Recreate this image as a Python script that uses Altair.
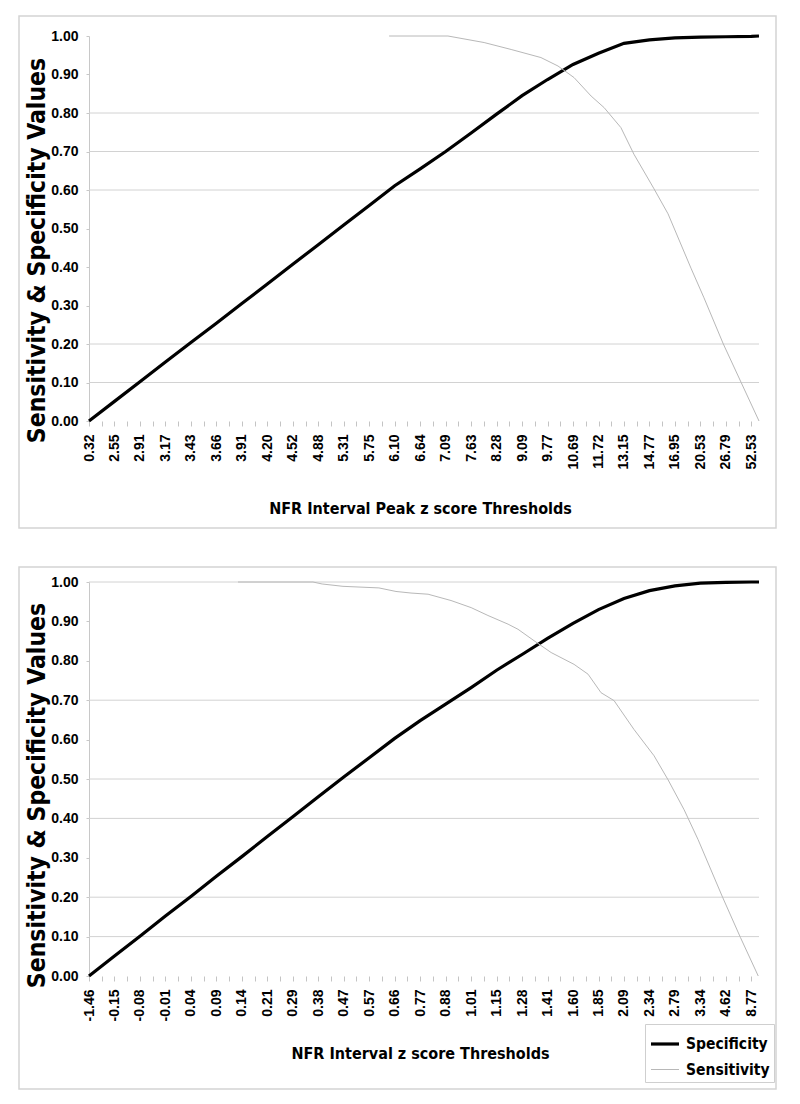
import altair as alt
import pandas as pd

# ---------------- data ----------------
top_labels = ["0.32", "2.55", "2.91", "3.17", "3.43", "3.66", "3.91", "4.20", "4.52",
              "4.88", "5.31", "5.75", "6.10", "6.64", "7.09", "7.63", "8.28", "9.09",
              "9.77", "10.69", "11.72", "13.15", "14.77", "16.95", "20.53", "26.79", "52.53"]
bottom_labels = ["-1.46", "-0.15", "-0.08", "-0.01", "0.04", "0.09", "0.14", "0.21", "0.29",
                 "0.38", "0.47", "0.57", "0.66", "0.77", "0.88", "1.01", "1.15", "1.28",
                 "1.41", "1.60", "1.85", "2.09", "2.34", "2.79", "3.34", "4.62", "8.77"]

# positions are in "label slot" units along the category axis
top_spec_pos = [0, 1, 2, 3, 4, 5, 6, 7, 8, 9, 10, 11, 12, 13, 14, 15, 16, 17, 18, 19, 20,
                21, 22, 23, 24, 25, 26, 26.3]
top_spec_val = [0.0, 0.051, 0.102, 0.153, 0.204, 0.254, 0.305, 0.356, 0.407, 0.458, 0.509,
                0.560, 0.611, 0.655, 0.700, 0.748, 0.797, 0.845, 0.887, 0.926, 0.955, 0.981,
                0.990, 0.995, 0.997, 0.998, 0.999, 1.0]
top_sens_pos = [11.78, 14.09, 15.51, 16.57, 17.74, 18.41, 19.04, 19.71, 20.22, 20.88, 21.39,
                22.18, 22.73, 23.63, 24.14, 24.9, 25.6, 26.3]
top_sens_val = [1.0, 1.0, 0.983, 0.965, 0.944, 0.922, 0.892, 0.844, 0.814, 0.762, 0.693,
                0.603, 0.538, 0.397, 0.320, 0.200, 0.100, 0.0]

bot_spec_pos = [0, 1, 2, 3, 4, 5, 6, 7, 8, 9, 10, 11, 12, 13, 14, 15, 16, 17, 18, 19, 20,
                21, 22, 23, 24, 25, 26, 26.3]
bot_spec_val = [0.0, 0.0505, 0.101, 0.152, 0.202, 0.253, 0.303, 0.354, 0.404, 0.455, 0.505,
                0.554, 0.603, 0.648, 0.690, 0.732, 0.776, 0.816, 0.857, 0.895, 0.930, 0.958,
                0.978, 0.990, 0.997, 0.999, 1.0, 1.0]
bot_sens_pos = [5.85, 8.79, 9.15, 9.97, 11.38, 12.05, 12.64, 13.31, 14.21, 15.0, 15.66, 16.45,
                16.84, 17.47, 18.14, 19.04, 19.59, 20.10, 20.61, 21.39, 22.18, 22.73, 23.36,
                23.91, 24.87, 25.57, 26.27]
bot_sens_val = [1.0, 1.0, 0.995, 0.989, 0.985, 0.976, 0.972, 0.969, 0.953, 0.935, 0.915, 0.893,
                0.880, 0.851, 0.821, 0.791, 0.766, 0.719, 0.699, 0.626, 0.559, 0.498, 0.422,
                0.346, 0.200, 0.098, 0.0]

y_ticks = [0.0, 0.1, 0.2, 0.3, 0.4, 0.5, 0.6, 0.7, 0.8, 0.9, 1.0]
top_grid = [0.1, 0.2, 0.6, 0.7, 0.8]
bot_grid = [0.1, 0.2, 0.4, 0.5, 0.7, 1.0]
x_tick_slots = [i / 2 for i in range(53)]

series_names = ["Specificity", "Sensitivity"]

# ---------------- styling ----------------
NARROW = "DejaVu Sans Condensed, Liberation Sans, sans-serif"
SANS = "Liberation Sans, Arial, sans-serif"
Y_TITLE = "Sensitivity & Specificity Values"
W = 670
X_MAX = 26.3


def label_expr(labels):
    arr = "[" + ",".join("'" + s + "'" for s in labels) + "]"
    return "datum.value % 1 == 0 ? " + arr + "[round(datum.value)] : ''"


def y_axis(ytitle_y):
    return alt.Axis(
        values=y_ticks, format=".2f", grid=False, gridOpacity=0, gridWidth=0,
        gridColor="transparent", labelOverlap=False,
        domainColor="#c8c8c8", tickColor="#c8c8c8", tickSize=3,
        labelFont=SANS, labelFontSize=14, labelFontWeight="bold",
        labelColor="#000000", labelPadding=8,
        title=Y_TITLE, titleFont=NARROW, titleFontSize=24.5,
        titleFontWeight="bold", titleColor="#000000", titleAngle=270,
        titleAlign="center", titleBaseline="alphabetic", titleX=-45, titleY=ytitle_y,
    )


def panel(labels, spec_pos, spec_val, sens_pos, sens_val, grid, height, x_title,
          title_y, ytitle_y, frame_top, frame_bottom, with_legend):
    df = pd.concat([
        pd.DataFrame({"pos": spec_pos, "val": spec_val, "series": "Specificity"}),
        pd.DataFrame({"pos": sens_pos, "val": sens_val, "series": "Sensitivity"}),
    ])
    yscale = alt.Scale(domain=[0, 1], nice=False)
    x_enc = alt.X(
        "pos:Q",
        scale=alt.Scale(domain=[0, X_MAX], nice=False, zero=False),
        axis=alt.Axis(
            values=x_tick_slots, labelExpr=label_expr(labels), labelAngle=270,
            labelFont=SANS, labelFontSize=14, labelFontWeight="bold", labelColor="#000000",
            labelPadding=8, labelFlush=False, labelOverlap=False,
            tickSize=5, tickColor="#c4c4c4", domain=False, grid=False,
            title=x_title, titleFont=NARROW, titleFontSize=16, titleFontWeight="bold",
            titleColor="#000000", titleY=title_y, titleX=W / 2 - 4, titleBaseline="middle",
        ),
    )
    if with_legend:
        leg = alt.Legend(
            title=None, orient="none", legendX=556, legendY=442,
            strokeColor="#cfcfcf", fillColor="#ffffff", padding=4,
            symbolType="stroke", symbolSize=784, rowPadding=2, labelOffset=5,
            labelFont=NARROW, labelFontSize=15.5, labelFontWeight="bold",
            labelColor="#000000",
        )
    else:
        leg = None
    color = alt.Color(
        "series:N",
        scale=alt.Scale(domain=series_names, range=["#000000", "#b8b8b8"]),
        legend=leg,
    )
    sw = alt.StrokeWidth(
        "series:N",
        scale=alt.Scale(domain=series_names, range=[3.2, 1.0]),
        legend=leg,
    )

    grid_layer = alt.Chart(pd.DataFrame({"val": grid})).mark_rule(
        color="#d2d2d2", strokeWidth=1
    ).encode(y=alt.Y("val:Q", scale=yscale, axis=y_axis(ytitle_y)))

    lines = alt.Chart(df).mark_line().encode(
        x=x_enc,
        y=alt.Y("val:Q", scale=yscale, axis=y_axis(ytitle_y)),
        color=color, strokeWidth=sw,
        detail="series:N", order="pos:Q",
    )

    frame = alt.Chart(pd.DataFrame({"f": [0]})).mark_rect(
        filled=False, stroke="#d4d4d4", strokeWidth=1.5
    ).encode(
        x=alt.value(-70), x2=alt.value(687),
        y=alt.value(frame_top), y2=alt.value(frame_bottom),
    )

    return alt.layer(grid_layer, lines, frame).properties(width=W, height=height)


top = panel(top_labels, top_spec_pos, top_spec_val, top_sens_pos, top_sens_val,
            top_grid, 385, "NFR Interval Peak z score Thresholds", 87, 214, -20, 492, False)
bottom = panel(bottom_labels, bot_spec_pos, bot_spec_val, bot_sens_pos, bot_sens_val,
               bot_grid, 394, "NFR Interval z score Thresholds", 77, 213, -15, 507, True)

chart = alt.vconcat(top, bottom, spacing=37).resolve_scale(
    color="independent", strokeWidth="independent", x="independent", y="independent"
).resolve_legend(
    color="independent", strokeWidth="independent"
).properties(
    padding={"left": 10, "top": 7, "right": 0, "bottom": 0}
).configure_view(stroke=None).configure_axisX(grid=False).configure_axisY(
    grid=False, gridOpacity=0
)

chart.save("out.html", embed_options={"renderer": "svg", "actions": False})
